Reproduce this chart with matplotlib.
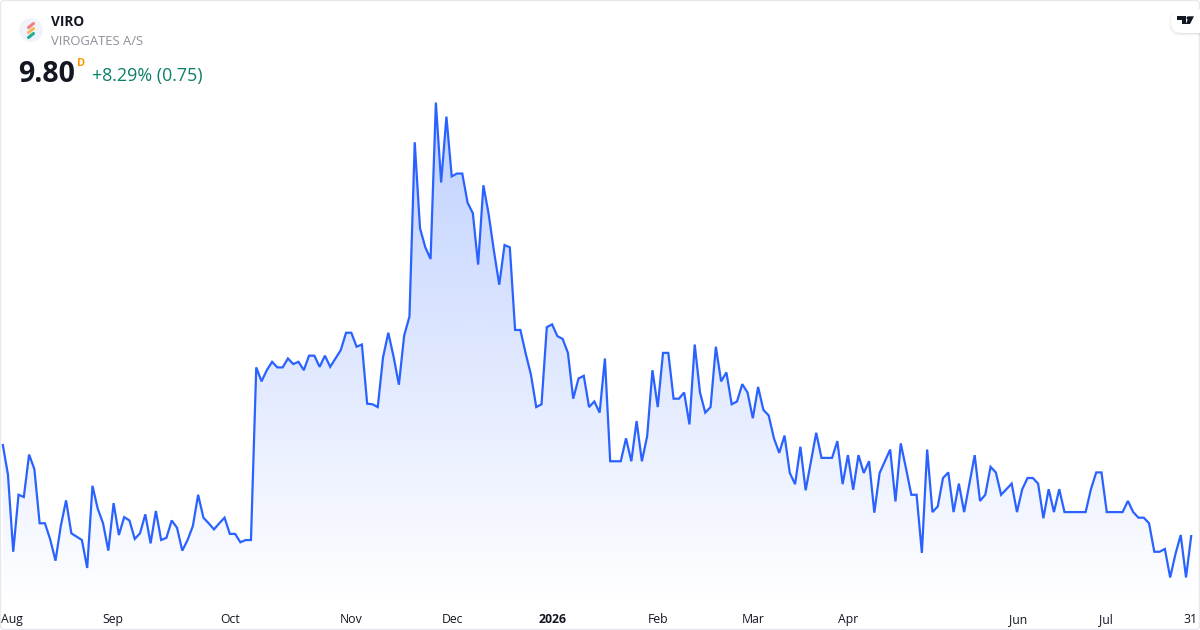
import numpy as np
import matplotlib
matplotlib.use("Agg")
import matplotlib.pyplot as plt
from matplotlib.colors import LinearSegmentedColormap
from matplotlib.patches import FancyBboxPatch, Circle, Polygon

plt.rcParams['font.family'] = ['Open Sans', 'Noto Sans', 'DejaVu Sans']

symbol = "VIRO"
company = "VIROGATES A/S"
last_price = "9.80"
interval = "D"
change = "+8.29% (0.75)"

prices_a = [11.43,10.88,9.50,10.52,10.48,11.24,10.98,10.01,10.01,9.72,9.34,9.96,10.42,9.83,9.77,9.71,9.21,10.68,10.27,10.01,
            9.52,10.37,9.80,10.12,10.06,9.73,9.83,10.17,9.65,10.23,9.71,9.75,10.06,9.93,9.52,9.71,9.96,10.52,10.11,10.01,
            9.90,10.01,10.11,9.82,9.82,9.67,9.71,9.71,12.80,12.55,12.75,12.90,12.80,12.80,12.96,12.86,12.90]
prices_b = [12.75,13.01,13.01,12.81,13.01,12.81,12.96,13.11,13.42,13.42,13.17,13.21,12.15,12.14,12.09,12.98,13.42,12.99,12.49,13.37,
            13.71,16.83,15.29,14.95,14.74,17.54,16.11,17.29,16.22,16.27,16.27,15.75,15.56,14.64,16.06,15.54,14.88,14.28,14.99,14.95,
            13.47,13.47,13.05,12.67,12.09,12.14,13.52,13.57,13.36,13.31,13.06,12.24,12.60,12.65,12.09,12.19,11.99]
prices_c = [12.96,11.12,11.12,11.12,11.53,11.12,11.84,11.12,11.57,12.75,12.09,13.06,13.06,12.24,12.24,12.35,11.78,13.21,12.35,11.99,
            12.09,13.17,12.55,12.71,12.14,12.19,12.50,12.35,11.89,12.45,12.04,11.94,11.53,11.27,11.58,10.91,10.71,11.38,10.60,11.11,
            11.63,11.18,11.18,11.18,11.48,10.71,11.23,10.61,11.23,10.91,11.12,10.20,10.91,11.12,11.33,10.40]
prices_d = [11.44,10.99,10.52,10.52,9.48,11.33,10.21,10.31,10.82,10.92,10.21,10.72,10.21,10.72,11.23,10.41,10.52,11.02,10.92,10.52,
            10.62,10.72,10.21,10.62,10.82,10.82,10.72,10.10,10.62,10.21,10.62,10.21,10.21,10.21,10.21,10.21,10.62,10.92,10.92,10.21,
            10.21,10.21,10.21,10.41,10.21,10.11,10.11,10.01,9.50,9.50,9.55,9.04,9.46,9.80,9.04,9.80]
prices = np.array(prices_a + prices_b + prices_c + prices_d)
idx = np.arange(len(prices))

tick_labels = ["Aug","Sep","Oct","Nov","Dec","2026","Feb","Mar","Apr","Jun","Jul","31"]
tick_index = [1.8,20.9,43.0,66.0,85.1,104.0,124.1,142.1,160.1,192.2,208.8,224.8]
bold_ticks = {"2026"}

LINE = "#2962FF"
W, H = 1200, 630
x0_px, x1_px = 2.67, 1191.3
px_per = (x1_px - x0_px) / (len(prices) - 1)
y_of = lambda y: 9.80 + (535 - y) * 0.0179

fig = plt.figure(figsize=(12, 6.3), dpi=100, facecolor="white")
ax = fig.add_axes([0, 0, 1, 1])
ax.set_facecolor("white")

base = y_of(606)
cmap = LinearSegmentedColormap.from_list("g", [(41/255, 98/255, 1, 0.30), (41/255, 98/255, 1, 0.0)])
grad = np.linspace(0, 1, 256).reshape(-1, 1)
im = ax.imshow(grad, cmap=cmap, aspect="auto", origin="upper",
               extent=[0, len(prices), base, prices.max()], zorder=1, interpolation="bilinear")
poly = ax.fill_between(idx, prices, base, facecolor="none", edgecolor="none", zorder=1)
im.set_clip_path(poly.get_paths()[0], transform=ax.transData)
ax.plot(idx, prices, color=LINE, lw=1.6, zorder=2, solid_joinstyle="miter", solid_capstyle="butt")

ax.set_xlim(-x0_px / px_per, (W - x0_px) / px_per)
ax.set_ylim(y_of(H), y_of(0))
ax.set_yticks([])
ax.set_xticks(tick_index)
ax.set_xticklabels(tick_labels)
ax.tick_params(axis="x", length=0, pad=-12.5, labelsize=8.8, colors="#131722")
for t in ax.get_xticklabels():
    if t.get_text() in bold_ticks:
        t.set_fontweight("bold")
for s in ax.spines.values():
    s.set_visible(False)

# overlay in pixel coordinates for header furniture
ov = fig.add_axes([0, 0, 1, 1], facecolor="none")
ov.set_xlim(0, W); ov.set_ylim(H, 0); ov.axis("off")

ov.add_patch(FancyBboxPatch((0.5, 0.5), W - 1, H - 1, boxstyle="round,pad=0,rounding_size=4",
                            fc="none", ec="#E6E8EE", lw=1.0))

# logo
ov.add_patch(Circle((31, 30), 12, fc="#F0F3FA", ec="none"))
for yc, col in [(25.5, "#F77C80"), (30.5, "#F9B55B"), (35.5, "#22AB94")]:
    ov.plot([28.5, 33.5], [yc + 2.0, yc - 2.0], color=col, lw=2.2, solid_capstyle="round")

ov.text(51, 22, symbol, fontsize=9.8, fontweight="bold", color="#131722", va="center", ha="left")
ov.text(51, 41.7, company, fontsize=9.4, color="#8C8F99", va="center", ha="left")
ov.text(18.5, 74, last_price, fontsize=20.5, fontweight="bold", color="#131722", va="center", ha="left")
ov.text(77, 63, interval, fontsize=8, fontweight="bold", color="#FF9800", va="center", ha="left")
ov.text(92, 75.5, change, fontsize=12.85, color="#0B8068", va="center", ha="left")

# TradingView badge
for i, a in enumerate([0.02, 0.03, 0.05]):
    ov.add_patch(FancyBboxPatch((1169 + i, 9 + i), 40, 27 - 2 * i, boxstyle="round,pad=0,rounding_size=11",
                                fc="black", ec="none", alpha=a))
ov.add_patch(FancyBboxPatch((1171, 9), 40, 24, boxstyle="round,pad=0,rounding_size=10", fc="white", ec="none"))
ov.add_patch(Polygon([(1177, 16.3), (1186, 16.3), (1186, 24), (1181.5, 24), (1181.5, 19.6), (1177, 19.6)], fc="#131722", ec="none"))
ov.add_patch(Circle((1188.2, 18), 1.7, fc="#131722", ec="none"))
ov.add_patch(Polygon([(1189.2, 16.3), (1194, 16.3), (1190, 24), (1185.8, 24)], fc="#131722", ec="none"))
ov.set_xlim(0, W); ov.set_ylim(H, 0)

fig.savefig("out.png", dpi=100, facecolor="white")
